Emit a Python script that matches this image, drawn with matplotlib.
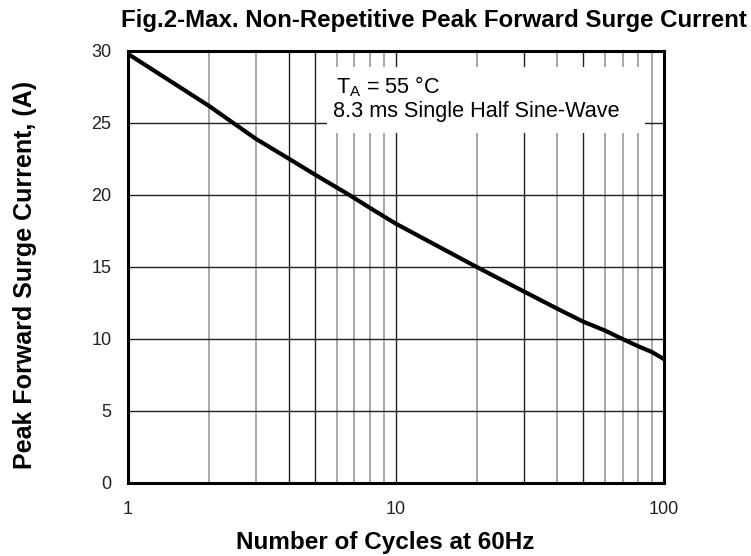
import matplotlib.pyplot as plt
from matplotlib.patches import Rectangle

plt.rcParams['font.family'] = ['Liberation Sans', 'DejaVu Sans']

# curve
cycles = [1, 2, 3, 4, 5, 6.7, 8, 10, 20, 30, 40, 50, 60, 70, 80, 90, 100]
surge_amps = [29.8, 26.2, 23.9, 22.5, 21.4, 20.0, 19.1, 18.0, 15.0, 13.3, 12.1, 11.2, 10.6, 10.0, 9.5, 9.1, 8.6]

# vertical grid lines (some render darker in the scan)
grid_x = [2, 3, 4, 5, 6, 7, 8, 9, 10, 20, 30, 40, 50, 60, 70, 80, 90]
grid_dark = [4, 5, 10, 30, 50]
grid_y = [5, 10, 15, 20, 25]
yticks = [0, 5, 10, 15, 20, 25, 30]
xticks = [1, 10, 100]

fig = plt.figure(figsize=(7.51, 5.56), dpi=100)
ax = fig.add_axes([0.1704, 0.1313, 0.7138, 0.777])

for gx in grid_x:
    if gx in grid_dark:
        ax.axvline(gx, color='#222222', lw=1.0, zorder=1)
    else:
        ax.axvline(gx, color='#a8a8a8', lw=1.4, zorder=1)
for gy in grid_y:
    ax.axhline(gy, color='#222222', lw=1.0, zorder=1)

# white box behind the note
ax.add_patch(Rectangle((0.371, 0.81), 0.594, 0.153, transform=ax.transAxes,
                       facecolor='white', edgecolor='none', zorder=2))
ax.text(0.388, 0.918, r'$\mathregular{T_A}$ = 55 °C', transform=ax.transAxes,
        fontsize=15.6, va='center', ha='left', zorder=3)
ax.text(0.382, 0.861, '8.3 ms Single Half Sine-Wave', transform=ax.transAxes,
        fontsize=15.6, va='center', ha='left', zorder=3)

ax.plot(cycles, surge_amps, color='black', lw=3, zorder=4, solid_capstyle='butt')

ax.set_xscale('log')
ax.set_xlim(1, 100)
ax.set_ylim(0, 30)
ax.set_xticks(xticks)
ax.set_xticklabels(['1', '10', '100'])
ax.minorticks_off()
ax.set_yticks(yticks)
ax.tick_params(length=0, labelsize=13, colors='#222222')
ax.tick_params(axis='x', pad=13)
ax.tick_params(axis='y', pad=12)
for s in ax.spines.values():
    s.set_linewidth(2.2)
    s.set_zorder(5)

fig.text(385 / 751, 0.025, 'Number of Cycles at 60Hz', fontsize=17.5,
         fontweight='bold', ha='center', va='center')
fig.text(25 / 751, 0.505, 'Peak Forward Surge Current, (A)', fontsize=18,
         fontweight='bold', ha='center', va='center', rotation=90)
fig.text(434 / 751, 0.964, 'Fig.2-Max. Non-Repetitive Peak Forward Surge Current',
         fontsize=17.3, fontweight='bold', ha='center', va='center')

fig.savefig('out.png', dpi=100)
